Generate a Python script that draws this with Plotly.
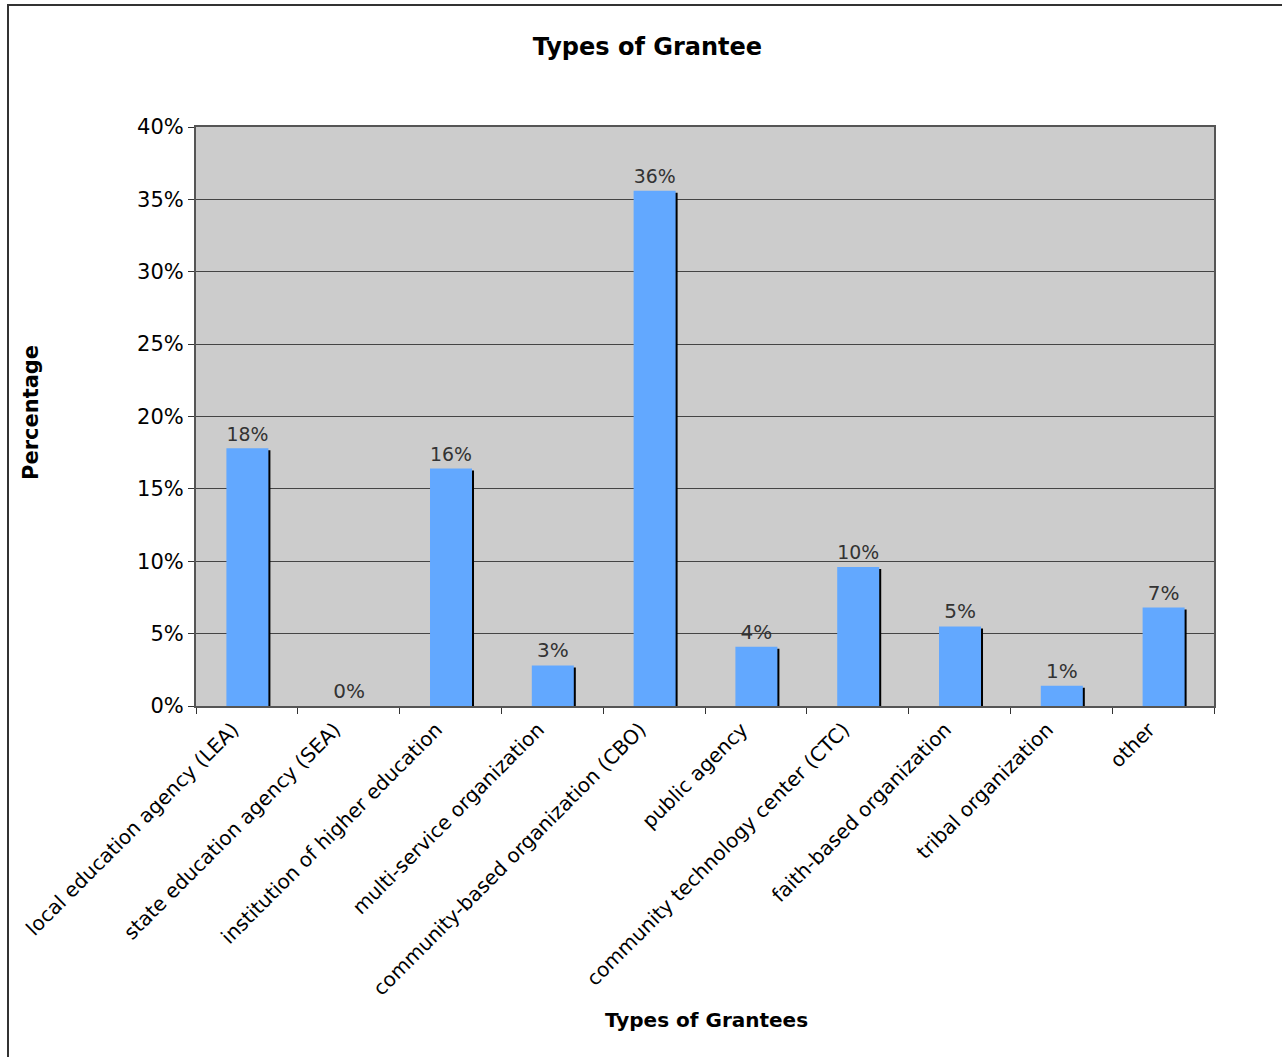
import plotly.graph_objects as go

categories = [
    "local education agency (LEA)",
    "state education agency (SEA)",
    "institution of higher education",
    "multi-service organization",
    "community-based organization (CBO)",
    "public agency",
    "community technology center (CTC)",
    "faith-based organization",
    "tribal organization",
    "other",
]
values = [17.8, 0.0, 16.4, 2.8, 35.6, 4.1, 9.6, 5.5, 1.4, 6.8]
labels = ["18%", "0%", "16%", "3%", "36%", "4%", "10%", "5%", "1%", "7%"]
y_ticks = [0, 5, 10, 15, 20, 25, 30, 35, 40]
y_ticklabels = ["0%", "5%", "10%", "15%", "20%", "25%", "30%", "35%", "40%"]

FONT = "DejaVu Sans"
W, H = 1282, 1057
L, R, T, B = 196, 68, 127, 351
pw = W - L - R
ph = H - T - B
ymax = 40

shadow_vals = [max(v - 2 * ymax / ph, 0) if v > 0 else 0 for v in values]
cat_px = pw / len(categories)
bw = 42 / cat_px
shift = 2 / cat_px

fig = go.Figure()
fig.add_trace(go.Bar(
    x=categories, y=shadow_vals, width=bw, offset=-bw / 2 + 0.005 + shift,
    marker=dict(color="black", line=dict(width=0)), hoverinfo="skip", showlegend=False,
))
fig.add_trace(go.Bar(
    x=categories, y=values, width=bw, offset=-bw / 2 + 0.005,
    marker=dict(color="#62A8FF", line=dict(width=0)),
    text=labels, textposition="outside", cliponaxis=False,
    textfont=dict(family=FONT, size=20, color="#333333"),
    showlegend=False,
))

fig.update_layout(
    width=W, height=H,
    margin=dict(l=L, r=R, t=T, b=B, autoexpand=False),
    paper_bgcolor="white", plot_bgcolor="#CCCCCC",
    barmode="overlay",
    font=dict(family=FONT, color="black"),
    title=dict(text="<b>Types of Grantee</b>", x=0.505, xanchor="center",
               y=1 - 47 / H, yanchor="middle", font=dict(family=FONT, size=24, color="black")),
)
fig.update_xaxes(
    type="category", tickson="boundaries", ticks="outside", ticklen=6, tickwidth=1,
    tickcolor="#333333", tickangle=-45, showgrid=False,
    showline=True, linecolor="#555555", linewidth=2, mirror=True,
    tickfont=dict(family=FONT, size=20, color="black"),
    ticklabelshift=-14, ticklabelstandoff=2,
    range=[-0.5, len(categories) - 0.5],
)
fig.update_yaxes(
    range=[0, ymax], tickvals=y_ticks, ticktext=y_ticklabels,
    ticks="outside", ticklen=6, tickcolor="#333333",
    showgrid=True, gridcolor="#444444", gridwidth=1,
    showline=True, linecolor="#555555", linewidth=2, mirror=True,
    tickfont=dict(family=FONT, size=21, color="black"),
    zeroline=False,
)

# outer chart border
fig.add_shape(type="rect", xref="paper", yref="paper",
              x0=(8 - L) / pw, x1=(1300 - L) / pw,
              y0=(H - B - 1075) / ph, y1=(H - B - 5) / ph,
              line=dict(color="#333333", width=2), fillcolor="rgba(0,0,0,0)", layer="above")

fig.add_annotation(text="<b>Types of Grantees</b>", xref="paper", yref="paper",
                   x=(706 - L) / pw, y=(H - B - 1020) / ph, showarrow=False,
                   font=dict(family=FONT, size=20, color="black"), xanchor="center", yanchor="middle")
fig.add_annotation(text="<b>Percentage</b>", xref="paper", yref="paper",
                   x=(31 - L) / pw, y=(H - B - 413) / ph, showarrow=False, textangle=-90,
                   font=dict(family=FONT, size=21, color="black"), xanchor="center", yanchor="middle")

fig.write_html("out.html")
